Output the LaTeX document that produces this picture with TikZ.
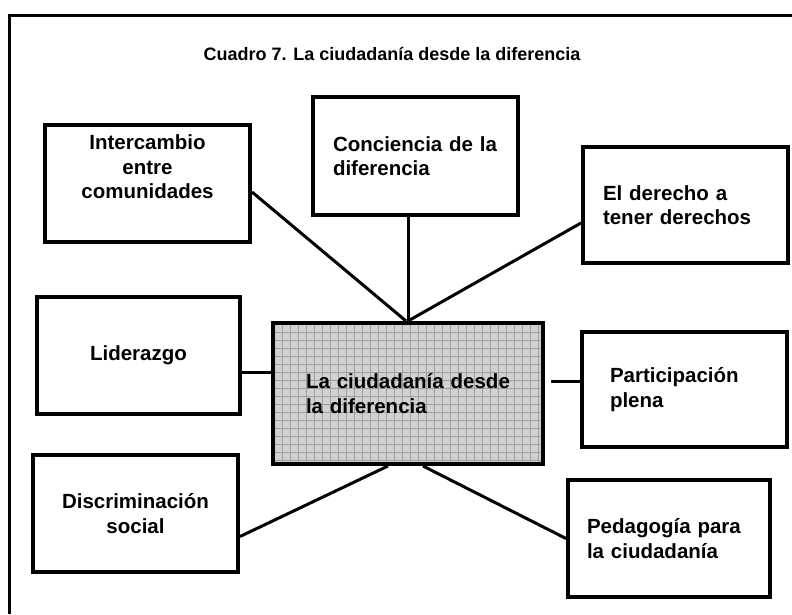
\documentclass[tikz,border=0pt]{standalone}
\usepackage{fontspec}
\setmainfont{Liberation Sans}
\begin{document}
\begin{tikzpicture}[x=1pt, y=-1pt,
    caja/.style={rectangle, draw, line width=4pt, inner sep=0pt, minimum width=205pt, minimum height=117pt,
                 font=\bfseries\fontsize{20.5}{24.5}\selectfont},
    enlace/.style={line width=3pt},
    cuadricula/.style={draw=black!38, line width=0.8pt}
]
    \useasboundingbox (0,0) rectangle (792,614);

    % Marco y titulo
    \draw[line width=3pt] (9,614) -- (9,15) -- (792,15);
    \node[font=\bfseries\fontsize{18}{22}\selectfont] (titulo) at (392,54) {Cuadro 7. La ciudadanía desde la diferencia};

    % Cuadro central
    \node[caja, minimum width=270pt, minimum height=141pt, text width=204pt, align=left, fill=black!18,
          path picture={\draw[cuadricula] (path picture bounding box.south west) grid[step=8pt] (path picture bounding box.north east);}]
          (cen) at (408,393.5) {La ciudadanía desde\\la diferencia};

    % Cuadros de arriba
    \node[caja, align=center, text depth=32pt] (inter) at (147.5,183) {Intercambio\\entre\\comunidades};
    \node[caja, text width=165pt, align=left, minimum height=118pt] (conc) at (415.5,156) {Conciencia de la\\diferencia};
    \node[caja, text width=165pt, align=left, minimum height=116pt] (der) at (685.5,205) {El derecho a\\tener derechos};

    % Cuadros del medio
    \node[caja, align=center, minimum width=203pt] (lid) at (138.5,355.5) {Liderazgo};
    \node[caja, text width=149pt, align=left, minimum height=115pt] (part) at (684.5,389.5) {Participación\\plena};

    % Cuadros de abajo
    \node[caja, align=center] (disc) at (135.5,513.5) {Discriminación\\social};
    \node[caja, text width=164pt, align=left, minimum width=202pt] (ped) at (669,538.5) {Pedagogía para\\la ciudadanía};

    % Enlaces
    \coordinate (l1) at ([yshift=-17pt]lid.east);
    \coordinate (p1) at ([yshift=8pt]part.west);
    \draw[enlace] ([yshift=-9pt]inter.east) -- ([xshift=-2pt]cen.north);
    \draw[enlace] (conc.south -| cen.north) -- (cen.north);
    \draw[enlace] ([yshift=-18pt]der.west) -- (cen.north);
    \draw[enlace] (l1) -- (l1 -| cen.west);
    \draw[enlace, shorten <=6pt] (p1 -| cen.east) -- (p1);
    \draw[enlace] ([yshift=-23pt]disc.east) -- ([xshift=-20pt]cen.south);
    \draw[enlace] (ped.west) -- ([xshift=15pt]cen.south);
\end{tikzpicture}
\end{document}
